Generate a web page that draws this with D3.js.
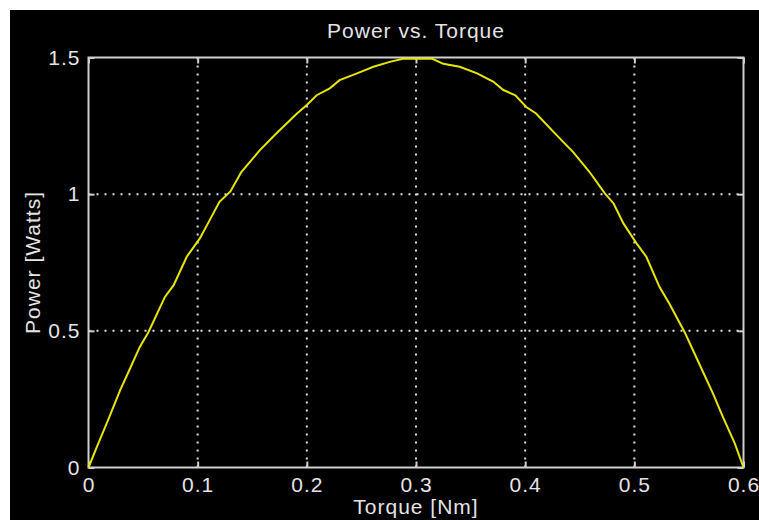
<!DOCTYPE html>
<html>
<head>
<meta charset="utf-8">
<script src="https://cdn.jsdelivr.net/npm/d3@7"></script>
<style>
  html, body { margin: 0; padding: 0; background: #fff; }
  svg { display: block; }
  text { font-family: "Liberation Sans", Arial, sans-serif; fill: #e4e4e4; letter-spacing: 1px; }
</style>
</head>
<body>
<div id="chart"></div>
<script>
// values
const torque = [0, 0.009, 0.018, 0.029, 0.036, 0.047, 0.055, 0.070, 0.078, 0.090, 0.102, 0.111, 0.120,
  0.130, 0.140, 0.157, 0.172, 0.191, 0.200, 0.209, 0.221, 0.230, 0.246, 0.261, 0.276, 0.288, 0.315,
  0.325, 0.340, 0.356, 0.371, 0.380, 0.391, 0.401, 0.410, 0.429, 0.444, 0.459, 0.473, 0.481, 0.490,
  0.502, 0.511, 0.523, 0.532, 0.546, 0.555, 0.572, 0.581, 0.592, 0.600]
const power = [0, 0.088, 0.174, 0.283, 0.344, 0.441, 0.496, 0.624, 0.667, 0.771, 0.838, 0.905, 0.972,
  1.010, 1.081, 1.161, 1.222, 1.295, 1.326, 1.362, 1.387, 1.417, 1.442, 1.466, 1.484, 1.495, 1.495,
  1.477, 1.466, 1.442, 1.411, 1.381, 1.362, 1.319, 1.295, 1.215, 1.154, 1.081, 1.003, 0.966, 0.893,
  0.820, 0.771, 0.661, 0.600, 0.496, 0.418, 0.271, 0.186, 0.088, 0]
const xTicks = [0, 0.1, 0.2, 0.3, 0.4, 0.5, 0.6]
const yTicks = [0, 0.5, 1, 1.5]
const xTickLabels = ['0', '0.1', '0.2', '0.3', '0.4', '0.5', '0.6']
const yTickLabels = ['0', '0.5', '1', '1.5']

const width = 759, height = 520
const plotL = 88.5, plotR = 743.5, plotT = 57.5, plotB = 467.5
const boxColor = '#d0d0d0'
const fontSize = '21px'

const svg = d3.select('#chart').append('svg')
  .attr('width', width)
  .attr('height', height)

// black figure background (white strip on top/left like the screenshot)
svg.append('rect')
  .attr('x', 10).attr('y', 10)
  .attr('width', width - 10).attr('height', height - 10)
  .attr('fill', '#000')

const x = d3.scaleLinear().domain([0, 0.6]).range([plotL, plotR])
const y = d3.scaleLinear().domain([0, 1.5]).range([plotB, plotT])

// dotted grid
const grid = svg.append('g')
  .attr('stroke', '#e0e0e0')
  .attr('stroke-width', 2)
  .attr('stroke-dasharray', '2,6')
grid.selectAll('.gx')
  .data(xTicks.slice(1, -1))
  .enter().append('line')
  .attr('x1', d => x(d)).attr('x2', d => x(d))
  .attr('y1', plotB).attr('y2', plotT)
grid.selectAll('.gy')
  .data(yTicks.slice(1, -1))
  .enter().append('line')
  .attr('y1', d => y(d)).attr('y2', d => y(d))
  .attr('x1', plotL).attr('x2', plotR)

// axes with inward ticks
function styleAxis(g) {
  g.select('.domain').remove()
  g.selectAll('.tick line').attr('stroke', boxColor).attr('stroke-width', 2)
  g.selectAll('.tick text')
    .attr('fill', '#e4e4e4')
    .style('font-size', fontSize)
    .style('font-family', '"Liberation Sans", Arial, sans-serif')
}

const xAxis = d3.axisBottom(x).tickValues(xTicks)
  .tickFormat((d, i) => xTickLabels[i]).tickSize(-6).tickPadding(10)
svg.append('g').attr('transform', `translate(0,${plotB})`).call(xAxis).call(styleAxis)

const xTop = d3.axisTop(x).tickValues(xTicks).tickFormat('').tickSize(-6)
svg.append('g').attr('transform', `translate(0,${plotT})`).call(xTop).call(styleAxis)

const yAxis = d3.axisLeft(y).tickValues(yTicks)
  .tickFormat((d, i) => yTickLabels[i]).tickSize(-6).tickPadding(8)
svg.append('g').attr('transform', `translate(${plotL},0)`).call(yAxis).call(styleAxis)

const yRight = d3.axisRight(y).tickValues(yTicks).tickFormat('').tickSize(-6)
svg.append('g').attr('transform', `translate(${plotR},0)`).call(yRight).call(styleAxis)

// box
svg.append('rect')
  .attr('x', plotL).attr('y', plotT)
  .attr('width', plotR - plotL).attr('height', plotB - plotT)
  .attr('fill', 'none')
  .attr('stroke', boxColor)
  .attr('stroke-width', 2)

// curve
const line = d3.line()
  .x((d, i) => x(torque[i]))
  .y(d => y(d))
svg.append('path')
  .datum(power)
  .attr('d', line)
  .attr('fill', 'none')
  .attr('stroke', '#e6e600')
  .attr('stroke-width', 2)

// title and labels
svg.append('text')
  .attr('x', (plotL + plotR) / 2).attr('y', 38)
  .attr('text-anchor', 'middle')
  .style('font-size', fontSize)
  .text('Power vs. Torque')

svg.append('text')
  .attr('x', (plotL + plotR) / 2).attr('y', 514)
  .attr('text-anchor', 'middle')
  .style('font-size', fontSize)
  .text('Torque [Nm]')

svg.append('text')
  .attr('transform', `translate(40,${(plotT + plotB) / 2}) rotate(-90)`)
  .attr('text-anchor', 'middle')
  .style('font-size', fontSize)
  .text('Power [Watts]')
</script>
</body>
</html>
